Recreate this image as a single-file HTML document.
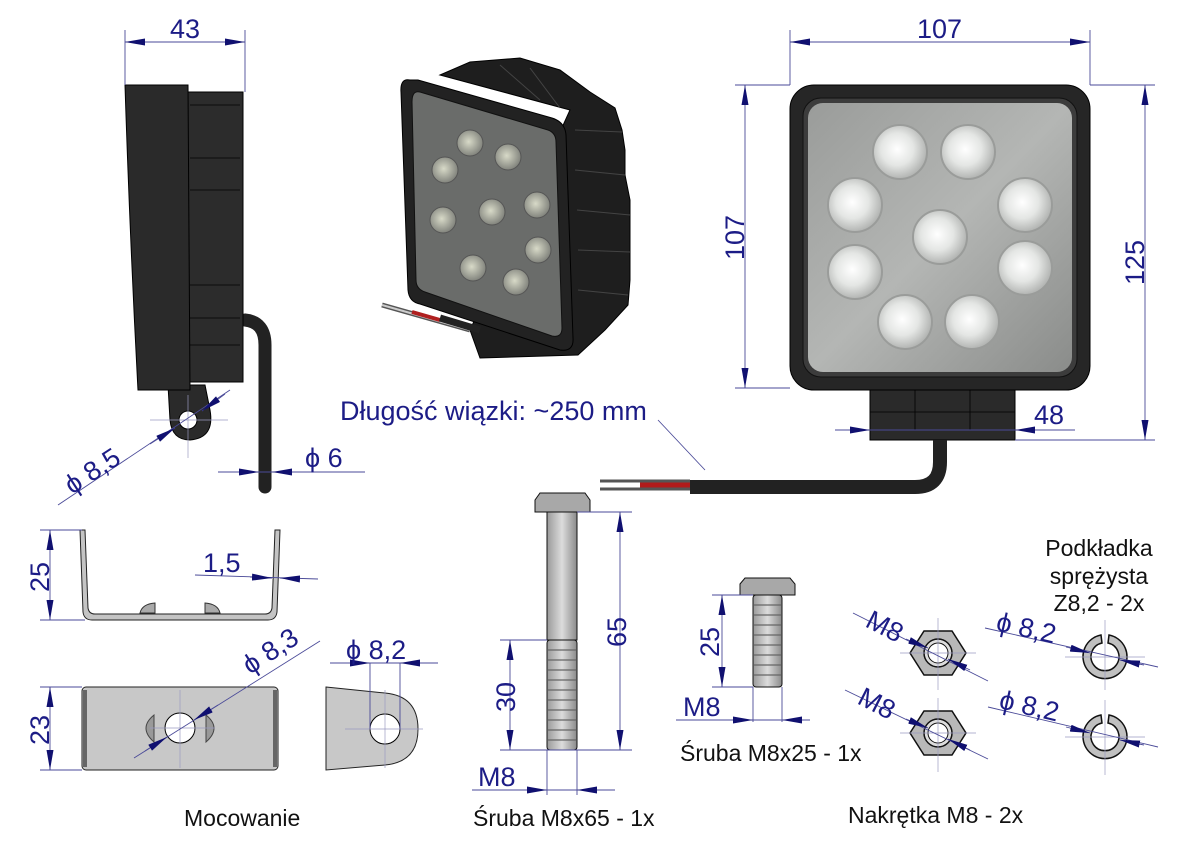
<!DOCTYPE html>
<html><head><meta charset="utf-8"><style>
html,body{margin:0;padding:0;background:#fff;}
svg{display:block;font-family:"Liberation Sans",sans-serif;}
.d{fill:#1c1c86;font-size:27px;}
.k{fill:#111;font-size:23px;}
.l{stroke:#4a4a98;stroke-width:0.9;fill:none;}
.c{stroke:#9a9ac0;stroke-width:0.7;fill:none;}
</style></head><body>
<svg width="1191" height="842" viewBox="0 0 1191 842" xmlns="http://www.w3.org/2000/svg">
<defs>
<marker id="a" viewBox="0 0 20 7" refX="20" refY="3.5" markerWidth="20" markerHeight="7" markerUnits="userSpaceOnUse" orient="auto-start-reverse"><path d="M0,0 L20,3.5 L0,7 Z" fill="#101070"/></marker>
<radialGradient id="led" cx="0.45" cy="0.45" r="0.6"><stop offset="0" stop-color="#fff"/><stop offset="0.5" stop-color="#e4e6e4"/><stop offset="1" stop-color="#a8aaa8"/></radialGradient>
<radialGradient id="led2" cx="0.45" cy="0.45" r="0.6"><stop offset="0" stop-color="#d8dac8"/><stop offset="1" stop-color="#7a7c76"/></radialGradient>
<linearGradient id="lens" x1="0" y1="0" x2="1" y2="1"><stop offset="0" stop-color="#9a9c9a"/><stop offset="0.5" stop-color="#b4b6b4"/><stop offset="1" stop-color="#8a8c8a"/></linearGradient>
<linearGradient id="steel" x1="0" y1="0" x2="1" y2="0"><stop offset="0" stop-color="#9a9a9a"/><stop offset="0.5" stop-color="#dcdcdc"/><stop offset="1" stop-color="#8a8a8a"/></linearGradient>
</defs>

<!-- SIDE VIEW -->
<path d="M245,320 Q265,322 265,345 L265,487" stroke="#222" stroke-width="13" fill="none" stroke-linecap="round"/>
<path d="M168,385 L205,385 L210,410 Q215,438 190,440 Q172,440 170,420 Z" fill="#2a2a2a" stroke="#000"/>
<circle cx="188" cy="420" r="9" fill="#fff" stroke="#000"/>
<rect x="188" y="92" width="55" height="290" fill="#2c2c2c" stroke="#000"/>
<g stroke="#000" stroke-width="0.8"><line x1="190" y1="105" x2="240" y2="105"/><line x1="190" y1="158" x2="240" y2="158"/><line x1="190" y1="190" x2="240" y2="190"/><line x1="190" y1="285" x2="240" y2="285"/><line x1="190" y1="318" x2="240" y2="318"/><line x1="190" y1="345" x2="240" y2="345"/></g>
<path d="M125,85 L188,85 L190,390 L138,390 Q130,240 125,85 Z" fill="#2a2a2a" stroke="#000"/>
<line class="c" x1="150" y1="420" x2="228" y2="420"/><line class="c" x1="188" y1="395" x2="188" y2="458"/>
<line class="l" x1="125" y1="30" x2="125" y2="85"/><line class="l" x1="245" y1="30" x2="245" y2="92"/>
<line class="l" x1="125" y1="42" x2="245" y2="42" marker-start="url(#a)" marker-end="url(#a)"/>
<text class="d" x="170" y="38">43</text>
<line class="l" x1="58" y1="505" x2="230" y2="390"/>
<line class="l" x1="150" y1="444" x2="175" y2="428" marker-end="url(#a)"/><line class="l" x1="225" y1="394" x2="202" y2="411" marker-end="url(#a)"/>
<text class="d" transform="translate(72,495) rotate(-33)">ϕ 8,5</text>
<line class="l" x1="218" y1="472" x2="365" y2="472"/>
<line class="l" x1="236" y1="472" x2="259" y2="472" marker-end="url(#a)"/><line class="l" x1="296" y1="472" x2="272" y2="472" marker-end="url(#a)"/>
<text class="d" x="305" y="467">ϕ  6</text>

<!-- PERSPECTIVE -->
<path d="M440,75 L470,62 L520,58 L560,70 L590,92 L615,108 L622,130 L625,150 L625,175 L630,200 L630,250 L630,280 L628,305 L605,330 L578,355 L480,358 L470,330 L570,110 Z" fill="#1e1e1e" stroke="#000"/>
<g stroke="#444" stroke-width="1"><line x1="575" y1="130" x2="622" y2="132"/><line x1="575" y1="170" x2="625" y2="175"/><line x1="577" y1="210" x2="630" y2="215"/><line x1="578" y1="250" x2="630" y2="252"/><line x1="578" y1="290" x2="628" y2="295"/><line x1="500" y1="65" x2="540" y2="100"/><line x1="530" y1="68" x2="560" y2="108"/></g>
<path d="M410,80 Q400,78 401,92 L408,290 Q409,302 420,304 L560,350 Q574,352 573,338 L566,135 Q565,122 552,118 L418,80 Z" fill="#222" stroke="#000"/>
<path d="M420,92 L548,130 Q556,133 556,142 L562,328 Q562,338 552,336 L425,292 Q416,289 416,280 L412,102 Q412,90 420,92 Z" fill="#6a6c6a" stroke="#111"/>
<g fill="url(#led2)" stroke="#555">
<circle cx="470" cy="143" r="13"/><circle cx="508" cy="157" r="13"/><circle cx="445" cy="170" r="13"/><circle cx="537" cy="205" r="13"/>
<circle cx="492" cy="212" r="13"/><circle cx="443" cy="220" r="13"/><circle cx="538" cy="250" r="13"/><circle cx="473" cy="268" r="13"/><circle cx="516" cy="282" r="13"/>
</g>
<path d="M382,305 L470,330" stroke="#555" stroke-width="5"/><path d="M382,305 L470,330" stroke="#ccc" stroke-width="2"/>
<path d="M412,312 L440,320" stroke="#b02020" stroke-width="4"/><path d="M440,318 L480,330" stroke="#222" stroke-width="7"/>

<!-- FRONT VIEW -->
<rect x="870" y="385" width="145" height="55" fill="#2a2a2a" stroke="#000"/>
<g stroke="#000" stroke-width="0.8"><line x1="915" y1="390" x2="915" y2="430"/><line x1="970" y1="390" x2="970" y2="430"/><line x1="870" y1="412" x2="1015" y2="412"/></g>
<path d="M940,440 L940,462 Q940,487 915,487 L690,487" stroke="#222" stroke-width="14" fill="none"/>
<path d="M600,481 L690,481 M600,489 L690,489" stroke="#555" stroke-width="3"/>
<path d="M640,485 L690,485" stroke="#b01a1a" stroke-width="5"/>
<rect x="790" y="85" width="300" height="305" rx="24" fill="#262626" stroke="#000"/>
<rect x="803" y="98" width="274" height="279" rx="18" fill="#3c3c3c" stroke="#111"/>
<rect x="808" y="103" width="264" height="269" rx="15" fill="url(#lens)"/>
<g fill="url(#led)" stroke="#9a9c9a" stroke-width="2">
<circle cx="900" cy="152" r="27"/><circle cx="968" cy="152" r="27"/><circle cx="855" cy="205" r="27"/><circle cx="1025" cy="205" r="27"/>
<circle cx="940" cy="237" r="27"/><circle cx="855" cy="272" r="27"/><circle cx="1025" cy="268" r="27"/><circle cx="905" cy="322" r="27"/><circle cx="972" cy="322" r="27"/>
</g>
<line class="l" x1="790" y1="30" x2="790" y2="85"/><line class="l" x1="1090" y1="30" x2="1090" y2="85"/>
<line class="l" x1="790" y1="42" x2="1090" y2="42" marker-start="url(#a)" marker-end="url(#a)"/>
<text class="d" x="917" y="38">107</text>
<line class="l" x1="735" y1="85" x2="790" y2="85"/><line class="l" x1="735" y1="388" x2="790" y2="388"/>
<line class="l" x1="745" y1="85" x2="745" y2="388" marker-start="url(#a)" marker-end="url(#a)"/>
<text class="d" transform="translate(744,260) rotate(-90)">107</text>
<line class="l" x1="1090" y1="85" x2="1155" y2="85"/><line class="l" x1="1015" y1="440" x2="1155" y2="440"/>
<line class="l" x1="1145" y1="85" x2="1145" y2="440" marker-start="url(#a)" marker-end="url(#a)"/>
<text class="d" transform="translate(1144,285) rotate(-90)">125</text>
<line class="l" x1="835" y1="430" x2="1075" y2="430"/>
<line class="l" x1="845" y1="430" x2="870" y2="430" marker-end="url(#a)"/><line class="l" x1="1040" y1="430" x2="1015" y2="430" marker-end="url(#a)"/>
<text class="d" x="1034" y="424">48</text>
<text style="fill:#1c1c86;font-size:27px" x="340" y="420">Długość wiązki: ~250 mm</text>
<line class="l" x1="658" y1="420" x2="705" y2="470"/>

<!-- MOUNTING -->
<path d="M80,530 L83,612 Q84,620 92,620 L268,620 Q276,620 277,612 L280,530 L275,530 L272,608 Q271,614 265,614 L95,614 Q89,614 88,608 L85,530 Z" fill="#c4c4c4" stroke="#222"/>
<path d="M140,613 Q142,604 155,603 L155,613 Z M205,613 L205,603 Q218,604 220,613 Z" fill="#aaa" stroke="#333"/>
<line class="l" x1="40" y1="530" x2="82" y2="530"/><line class="l" x1="40" y1="620" x2="85" y2="620"/>
<line class="l" x1="50" y1="530" x2="50" y2="620" marker-start="url(#a)" marker-end="url(#a)"/>
<text class="d" transform="translate(49,592) rotate(-90)">25</text>
<line class="l" x1="195" y1="575" x2="318" y2="579"/>
<line class="l" x1="250" y1="577" x2="272" y2="578" marker-end="url(#a)"/><line class="l" x1="300" y1="579" x2="280" y2="578" marker-end="url(#a)"/>
<text class="d" x="203" y="572">1,5</text>
<rect x="82" y="687" width="196" height="83" rx="4" fill="#c8c8c8" stroke="#222"/>
<path d="M85,690 L85,767 M275,690 L275,767" stroke="#666" stroke-width="4"/>
<path d="M154,715 Q138,728 154,742 Z" fill="#999" stroke="#444"/><path d="M206,715 Q222,728 206,742 Z" fill="#999" stroke="#444"/>
<circle cx="180" cy="728" r="15" fill="#fff" stroke="#000"/>
<line class="c" x1="180" y1="690" x2="180" y2="768"/><line class="c" x1="150" y1="728" x2="215" y2="728"/>
<line class="l" x1="40" y1="687" x2="82" y2="687"/><line class="l" x1="40" y1="770" x2="82" y2="770"/>
<line class="l" x1="50" y1="687" x2="50" y2="770" marker-start="url(#a)" marker-end="url(#a)"/>
<text class="d" transform="translate(49,745) rotate(-90)">23</text>
<line class="l" x1="134" y1="758" x2="320" y2="641"/>
<line class="l" x1="145" y1="751" x2="167" y2="737" marker-end="url(#a)"/><line class="l" x1="218" y1="705" x2="194" y2="720" marker-end="url(#a)"/>
<text class="d" transform="translate(250,675) rotate(-33)">ϕ 8,3</text>
<path d="M326,687 L385,693 Q418,696 418,729 Q418,762 385,765 L326,770 Z" fill="#c8c8c8" stroke="#222"/>
<circle cx="385" cy="729" r="15" fill="#fff" stroke="#000"/>
<line class="c" x1="345" y1="729" x2="423" y2="729"/><line class="c" x1="385" y1="690" x2="385" y2="768"/>
<line class="l" x1="370" y1="663" x2="370" y2="729"/><line class="l" x1="400" y1="663" x2="400" y2="729"/>
<line class="l" x1="330" y1="663" x2="438" y2="663"/>
<line class="l" x1="348" y1="663" x2="370" y2="663" marker-end="url(#a)"/><line class="l" x1="422" y1="663" x2="400" y2="663" marker-end="url(#a)"/>
<text class="d" x="346" y="659">ϕ  8,2</text>
<text class="k" x="184" y="826">Mocowanie</text>

<!-- BOLT 65 -->
<path d="M535,500 L540,493 L585,493 L590,500 L590,512 L535,512 Z" fill="#a8a8a8" stroke="#111"/>
<rect x="547" y="512" width="30" height="128" fill="url(#steel)" stroke="#111"/>
<rect x="547" y="640" width="30" height="110" rx="3" fill="url(#steel)" stroke="#111"/>
<g stroke="#666" stroke-width="1.2"><line x1="548" y1="650" x2="576" y2="650"/><line x1="548" y1="660" x2="576" y2="660"/><line x1="548" y1="670" x2="576" y2="670"/><line x1="548" y1="680" x2="576" y2="680"/><line x1="548" y1="690" x2="576" y2="690"/><line x1="548" y1="700" x2="576" y2="700"/><line x1="548" y1="710" x2="576" y2="710"/><line x1="548" y1="720" x2="576" y2="720"/><line x1="548" y1="730" x2="576" y2="730"/><line x1="548" y1="740" x2="576" y2="740"/></g>
<line class="l" x1="577" y1="512" x2="632" y2="512"/><line class="l" x1="500" y1="750" x2="632" y2="750"/><line class="l" x1="500" y1="640" x2="547" y2="640"/>
<line class="l" x1="620" y1="512" x2="620" y2="750" marker-start="url(#a)" marker-end="url(#a)"/>
<text class="d" transform="translate(626,647) rotate(-90)">65</text>
<line class="l" x1="510" y1="640" x2="510" y2="750" marker-start="url(#a)" marker-end="url(#a)"/>
<text class="d" transform="translate(515,712) rotate(-90)">30</text>
<line class="l" x1="547" y1="750" x2="547" y2="795"/><line class="l" x1="577" y1="750" x2="577" y2="795"/>
<line class="l" x1="472" y1="790" x2="615" y2="790"/>
<line class="l" x1="522" y1="790" x2="547" y2="790" marker-end="url(#a)"/><line class="l" x1="602" y1="790" x2="577" y2="790" marker-end="url(#a)"/>
<text class="d" x="478" y="786">M8</text>
<text class="k" x="473" y="826">Śruba M8x65 - 1x</text>

<!-- BOLT 25 -->
<path d="M740,584 L745,578 L790,578 L795,584 L795,595 L740,595 Z" fill="#a8a8a8" stroke="#111"/>
<rect x="753" y="595" width="29" height="92" rx="3" fill="url(#steel)" stroke="#111"/>
<g stroke="#666" stroke-width="1.2"><line x1="754" y1="605" x2="781" y2="605"/><line x1="754" y1="615" x2="781" y2="615"/><line x1="754" y1="625" x2="781" y2="625"/><line x1="754" y1="635" x2="781" y2="635"/><line x1="754" y1="645" x2="781" y2="645"/><line x1="754" y1="655" x2="781" y2="655"/><line x1="754" y1="665" x2="781" y2="665"/><line x1="754" y1="675" x2="781" y2="675"/></g>
<line class="l" x1="712" y1="595" x2="753" y2="595"/><line class="l" x1="712" y1="687" x2="753" y2="687"/>
<line class="l" x1="722" y1="595" x2="722" y2="687" marker-start="url(#a)" marker-end="url(#a)"/>
<text class="d" transform="translate(719,657) rotate(-90)">25</text>
<line class="l" x1="753" y1="687" x2="753" y2="722"/><line class="l" x1="782" y1="687" x2="782" y2="722"/>
<line class="l" x1="676" y1="720" x2="810" y2="720"/>
<line class="l" x1="728" y1="720" x2="753" y2="720" marker-end="url(#a)"/><line class="l" x1="807" y1="720" x2="782" y2="720" marker-end="url(#a)"/>
<text class="d" x="683" y="716">M8</text>
<text class="k" x="680" y="761">Śruba M8x25 - 1x</text>

<!-- NUTS -->
<g>
<polygon points="910,653 924,631 952,631 966,653 952,675 924,675" fill="#b8b8b8" stroke="#111" stroke-width="1.5"/>
<circle cx="938" cy="653" r="14" fill="#ddd" stroke="#111" stroke-width="1.5"/><circle cx="938" cy="653" r="10" fill="#fff" stroke="#111"/>
<polygon points="910,733 924,711 952,711 966,733 952,755 924,755" fill="#b8b8b8" stroke="#111" stroke-width="1.5"/>
<circle cx="938" cy="733" r="14" fill="#ddd" stroke="#111" stroke-width="1.5"/><circle cx="938" cy="733" r="10" fill="#fff" stroke="#111"/>
</g>
<line class="c" x1="900" y1="653" x2="976" y2="653"/><line class="c" x1="938" y1="618" x2="938" y2="690"/>
<line class="c" x1="900" y1="733" x2="976" y2="733"/><line class="c" x1="938" y1="698" x2="938" y2="772"/>
<line class="l" x1="853" y1="613" x2="988" y2="681"/><line class="l" x1="845" y1="690" x2="988" y2="759"/>
<line class="l" x1="906" y1="639" x2="928" y2="648" marker-end="url(#a)"/><line class="l" x1="970" y1="670" x2="948" y2="659" marker-end="url(#a)"/>
<line class="l" x1="906" y1="719" x2="928" y2="728" marker-end="url(#a)"/><line class="l" x1="970" y1="750" x2="948" y2="739" marker-end="url(#a)"/>
<text class="d" transform="translate(864,626) rotate(27)">M8</text>
<text class="d" transform="translate(856,703) rotate(27)">M8</text>
<!-- WASHERS -->
<g fill="#c0c0c0" stroke="#111" stroke-width="1.5">
<path d="M1101,635 A22,22 0 1,0 1109,635 L1108,643 A14,14 0 1,1 1102,643 Z"/>
<path d="M1101,715 A22,22 0 1,0 1109,715 L1108,723 A14,14 0 1,1 1102,723 Z"/>
</g>
<line class="c" x1="1065" y1="657" x2="1145" y2="657"/><line class="c" x1="1105" y1="620" x2="1105" y2="690"/>
<line class="c" x1="1065" y1="737" x2="1145" y2="737"/><line class="c" x1="1105" y1="700" x2="1105" y2="775"/>
<line class="l" x1="985" y1="628" x2="1158" y2="667"/><line class="l" x1="988" y1="707" x2="1158" y2="747"/>
<line class="l" x1="1066" y1="647" x2="1090" y2="653" marker-end="url(#a)"/><line class="l" x1="1144" y1="665" x2="1120" y2="660" marker-end="url(#a)"/>
<line class="l" x1="1066" y1="727" x2="1090" y2="733" marker-end="url(#a)"/><line class="l" x1="1144" y1="745" x2="1120" y2="740" marker-end="url(#a)"/>
<text class="d" transform="translate(995,630) rotate(13)">ϕ  8,2</text>
<text class="d" transform="translate(998,708) rotate(13)">ϕ  8,2</text>
<text class="k" x="1099" y="556" text-anchor="middle">Podkładka</text>
<text class="k" x="1099" y="584" text-anchor="middle">sprężysta</text>
<text class="k" x="1099" y="611" text-anchor="middle">Z8,2 - 2x</text>
<text class="k" x="848" y="823">Nakrętka M8 - 2x</text>
</svg>
</body></html>
